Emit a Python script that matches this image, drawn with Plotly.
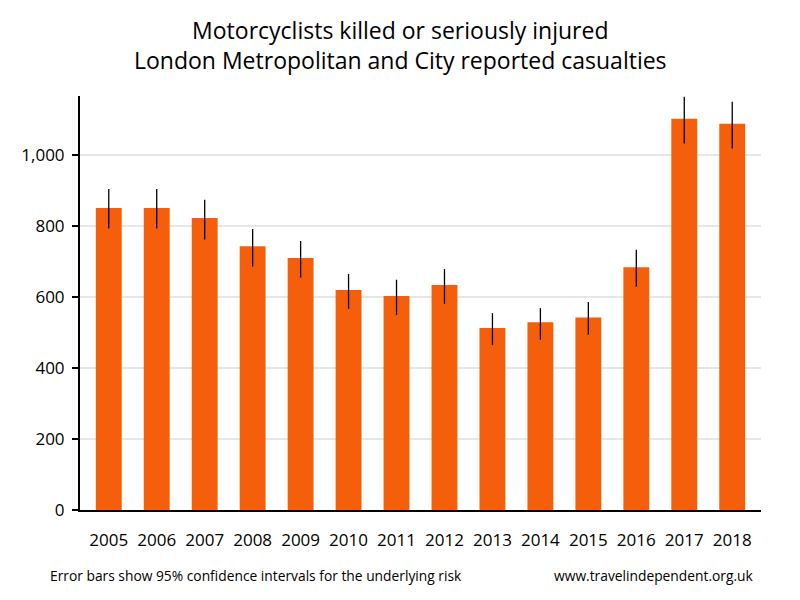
import plotly.graph_objects as go

years = ["2005", "2006", "2007", "2008", "2009", "2010", "2011",
         "2012", "2013", "2014", "2015", "2016", "2017", "2018"]
casualties = [850, 850, 822, 742, 709, 619, 602, 633, 512, 528, 542, 683, 1101, 1087]
ci_upper = [903, 903, 873, 791, 757, 664, 648, 678, 554, 568, 585, 732, 1163, 1149]
ci_lower = [792, 792, 761, 685, 654, 566, 549, 580, 465, 479, 493, 628, 1031, 1017]

err_plus = [u - v for u, v in zip(ci_upper, casualties)]
err_minus = [v - l for v, l in zip(casualties, ci_lower)]

FONT = "Open Sans, Noto Sans, sans-serif"

fig = go.Figure(go.Bar(
    x=years, y=casualties,
    marker=dict(color="#F55F0C", line=dict(width=0)),
    width=0.54,
    error_y=dict(type="data", symmetric=False, array=err_plus, arrayminus=err_minus,
                 color="black", thickness=1.3, width=0),
))

fig.update_layout(
    width=792, height=592,
    margin=dict(l=72, r=39, t=88, b=90, autoexpand=False),
    paper_bgcolor="white", plot_bgcolor="white",
    showlegend=False,
    font=dict(family=FONT, color="black"),
    annotations=[
        dict(text="Motorcyclists killed or seriously injured<br>London Metropolitan and City reported casualties",
             xref="paper", yref="paper", x=(400 - 80) / 681, y=(510 - 45) / 414,
             xanchor="center", yanchor="middle", showarrow=False,
             font=dict(size=23, family=FONT, color="black")),
        dict(text="Error bars show 95% confidence intervals for the underlying risk",
             xref="paper", yref="paper", x=(48 - 80) / 681, y=(510 - 575) / 414,
             xanchor="left", yanchor="middle",
             showarrow=False, font=dict(size=13.8, family=FONT)),
        dict(text="www.travelindependent.org.uk",
             xref="paper", yref="paper", x=(756 - 80) / 681, y=(510 - 575) / 414,
             xanchor="right", yanchor="middle",
             showarrow=False, font=dict(size=13.8, family=FONT)),
    ],
    xaxis=dict(
        type="category", range=[-0.6, 13.6], automargin=False,
        showline=True, linecolor="black", linewidth=2,
        ticks="", showgrid=False,
        tickfont=dict(size=17, family=FONT),
        ticklabelstandoff=14,
    ),
    yaxis=dict(
        range=[0, 1165], tickvals=[0, 200, 400, 600, 800, 1000], automargin=False,
        tickformat=",", showline=True, linecolor="black", linewidth=2,
        ticks="outside", ticklen=6, tickwidth=2, tickcolor="black",
        showgrid=True, gridcolor="#e6e6e6", gridwidth=2,
        zeroline=False,
        tickfont=dict(size=17, family=FONT),
        ticklabelstandoff=4,
    ),
)

fig.write_html("out.html")
